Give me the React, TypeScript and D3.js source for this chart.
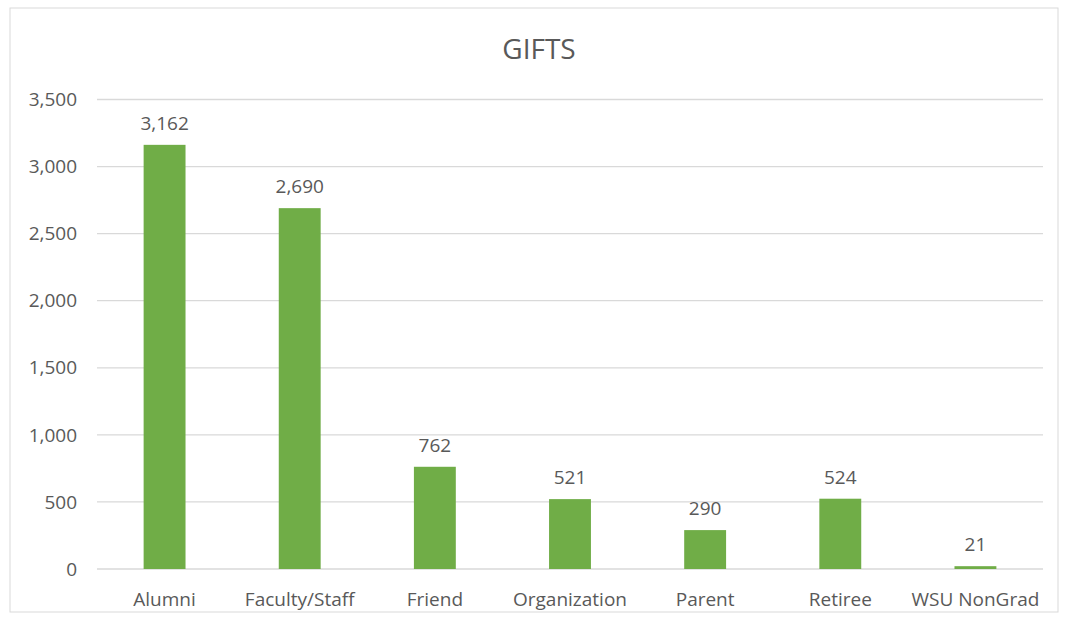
import React from 'react';
import * as d3 from 'd3';

const categories = ['Alumni', 'Faculty/Staff', 'Friend', 'Organization', 'Parent', 'Retiree', 'WSU NonGrad'];
const gifts = [3162, 2690, 762, 521, 290, 524, 21];
const yTicks = [0, 500, 1000, 1500, 2000, 2500, 3000, 3500];

const W = 1065, H = 620;
const plot = { left: 97, right: 1043, top: 99.5, bottom: 569 };
const font = "'Open Sans', sans-serif";
const gray = '#595959';

export default function App() {
  const x = d3.scaleBand<string>()
    .domain(categories)
    .range([plot.left, plot.right])
    .paddingInner(0.69)
    .paddingOuter(0.345);
  const y = d3.scaleLinear().domain([0, 3500]).range([plot.bottom, plot.top]);
  const fmt = d3.format(',');

  return (
    <svg width={W} height={H} style={{ position: 'fixed', left: 0, top: 0, background: '#fff' }}>
      <rect x={10} y={8} width={1048} height={604} fill="#fff" stroke="#d9d9d9" strokeWidth={1} />
      <text x={539} y={59} textAnchor="middle" fontFamily={font} fontSize={28} fill={gray}>GIFTS</text>
      <g className="grid">
        {yTicks.map(t => (
          <g key={t}>
            <line x1={plot.left} x2={plot.right} y1={y(t)} y2={y(t)} stroke="#d9d9d9" strokeWidth={1.3} />
            <text x={77} y={y(t)} dy="0.35em" textAnchor="end" fontFamily={font} fontSize={19} fill={gray}>{fmt(t)}</text>
          </g>
        ))}
      </g>
      <g className="bars">
        {categories.map((c, i) => (
          <g key={c}>
            <rect x={x(c)} y={y(gifts[i])} width={x.bandwidth()} height={y(0) - y(gifts[i])} fill="#70ad47" />
            <text x={(x(c) as number) + x.bandwidth() / 2} y={y(gifts[i]) - 15} textAnchor="middle"
              fontFamily={font} fontSize={19} fill={gray}>{fmt(gifts[i])}</text>
            <text x={(x(c) as number) + x.bandwidth() / 2} y={606} textAnchor="middle"
              fontFamily={font} fontSize={19} fill={gray}>{c}</text>
          </g>
        ))}
      </g>
    </svg>
  );
}
